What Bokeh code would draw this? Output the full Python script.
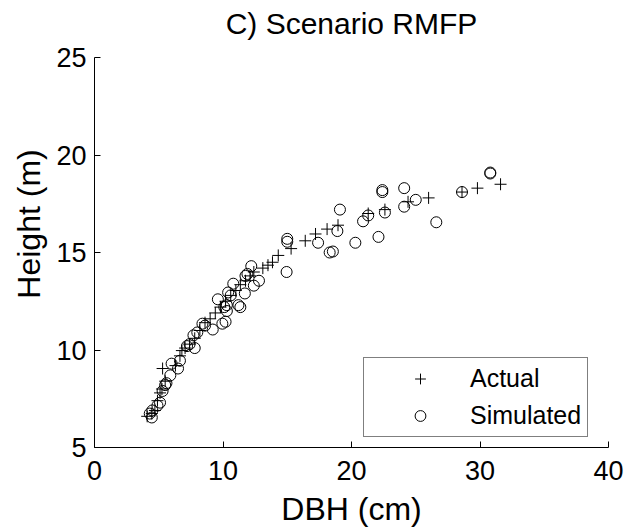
from bokeh.plotting import figure
from bokeh.models import Range1d, FixedTicker, Legend, LegendItem, Label
from bokeh.embed import file_html
from bokeh.resources import INLINE

actual_dbh = [4.1, 4.46, 4.7, 4.9, 5.1, 5.25, 5.5, 5.3, 6.3, 6.65, 6.8, 7.05, 7.4, 7.8, 8.2,
              8.6, 9.0, 9.4, 9.8, 10.2, 10.6, 11.0, 11.35, 11.75, 12.1, 12.4, 13.1, 13.5,
              13.85, 14.3, 15.3, 16.4, 17.2, 18.1, 18.95, 21.3, 22.6, 24.4, 26.0, 28.6,
              29.8, 31.6]
actual_h = [6.6, 6.74, 6.9, 7.4, 7.8, 8.0, 8.4, 9.05, 9.2, 9.7, 9.97, 10.1, 10.3, 10.6, 11.0,
            11.4, 11.6, 11.9, 12.2, 12.5, 12.8, 13.05, 13.35, 13.55, 13.8, 14.0, 14.2, 14.35,
            14.5, 14.85, 15.2, 15.6, 15.95, 16.2, 16.4, 17.0, 17.2, 17.6, 17.8, 18.1,
            18.3, 18.5]

sim_dbh = [4.46, 4.3, 4.5, 4.9, 5.1, 5.3, 5.5, 5.6, 5.9, 6.5, 6.0, 6.65, 7.2, 7.4, 7.8, 7.7,
           8.0, 8.4, 8.6, 9.2, 9.95, 10.2, 10.1, 10.3, 11.2, 11.35, 9.6, 10.3, 10.4, 10.6,
           10.8, 11.7, 12.4, 12.8, 11.75, 11.9, 12.2, 14.95, 15.0, 15.0, 17.4, 18.3, 18.55,
           18.9, 19.1, 20.3, 20.9, 21.3, 22.1, 22.4, 22.4, 22.6, 24.1, 24.1, 25.0, 26.6,
           28.6, 30.8, 30.8]
sim_h = [6.54, 6.74, 6.9, 7.15, 7.3, 7.9, 8.2, 8.3, 8.7, 9.05, 9.3, 9.45, 10.2, 10.3, 10.1,
         10.75, 10.9, 11.35, 11.25, 11.05, 11.35, 11.45, 12.2, 12.0, 12.3, 12.2, 12.6, 12.3,
         12.95, 12.8, 13.4, 12.9, 13.3, 13.55, 13.8, 13.9, 14.3, 14.0, 15.55, 15.7, 15.5,
         15.0, 15.05, 16.1, 17.2, 15.5, 16.6, 16.9, 15.8, 18.1, 18.2, 17.05, 18.3, 17.35,
         17.7, 16.55, 18.1, 19.05, 19.1]

x_ticks = [0, 10, 20, 30, 40]
y_ticks = [5, 10, 15, 20, 25]
title_text = "C) Scenario RMFP"

FONT = "Liberation Sans"
X_LO, X_HI = 0, 40
Y_LO, Y_HI = 5, 25
# the frame runs to the top of the page; the axis itself stops at 25
PX_PER_UNIT = 390 / (Y_HI - Y_LO)
TOP_GAP = 57  # px between the top of the page and y = 25
Y_END = Y_HI + TOP_GAP / PX_PER_UNIT
FRAME_H = 447

p = figure(width=626, height=529, x_range=Range1d(X_LO, X_HI), y_range=Range1d(Y_LO, Y_END),
           output_backend="svg", toolbar_location=None,
           min_border_left=94, min_border_right=18, min_border_top=0, min_border_bottom=82)

p.outline_line_color = None
p.grid.visible = False
p.background_fill_color = "white"
p.border_fill_color = "white"

for ax, ticks, lab in ((p.xaxis[0], x_ticks, "DBH (cm)"), (p.yaxis[0], y_ticks, "Height (m)")):
    ax.ticker = FixedTicker(ticks=ticks)
    ax.axis_label = lab
    ax.axis_label_text_font = FONT
    ax.axis_label_text_font_size = "32px"
    ax.axis_label_text_font_style = "normal"
    ax.axis_label_text_color = "black"
    ax.major_label_text_font = FONT
    ax.major_label_text_font_size = "27px"
    ax.major_label_text_color = "black"
    ax.axis_line_color = "black"
    ax.major_tick_line_color = "black"
    ax.major_tick_in = 6
    ax.major_tick_out = 0
    ax.minor_tick_line_color = None

p.yaxis[0].bounds = (Y_LO, Y_HI)
p.xaxis[0].major_label_standoff = 13
p.xaxis[0].axis_label_standoff = 8
p.yaxis[0].major_label_standoff = 8
p.yaxis[0].axis_label_standoff = 6

# title as a label near the top of the frame, centred on the x range
title = Label(x=(X_LO + X_HI) / 2, y=FRAME_H - 23, x_units="data", y_units="screen",
              text=title_text, text_font=FONT, text_font_size="30px", text_align="center",
              text_baseline="alphabetic", text_color="black")
p.add_layout(title)

p.scatter(actual_dbh, actual_h, marker="cross", size=12, line_color="black", line_width=1)
p.scatter(sim_dbh, sim_h, marker="circle", size=11, fill_color=None,
          line_color="black", line_width=1)

# smaller marker stand-ins for the legend (a single undrawn NaN point each)
nan = float("nan")
leg_act = p.scatter([nan], [nan], marker="cross", size=9, line_color="black", line_width=1)
leg_sim = p.scatter([nan], [nan], marker="circle", size=8, fill_color=None,
                    line_color="black", line_width=1)

legend = Legend(items=[LegendItem(label="Actual", renderers=[leg_act]),
                       LegendItem(label="Simulated", renderers=[leg_sim])],
                location=(269, 10))
legend.label_text_font = FONT
legend.label_text_font_size = "25px"
legend.label_text_color = "black"
legend.border_line_color = "black"
legend.border_line_width = 1
legend.background_fill_alpha = 1
legend.padding = 6
legend.spacing = 8
legend.glyph_width = 100
legend.glyph_height = 27
legend.label_height = 27
legend.label_standoff = 0
legend.margin = 0
p.add_layout(legend, "center")

open("out.html", "w").write(file_html(p, INLINE))
